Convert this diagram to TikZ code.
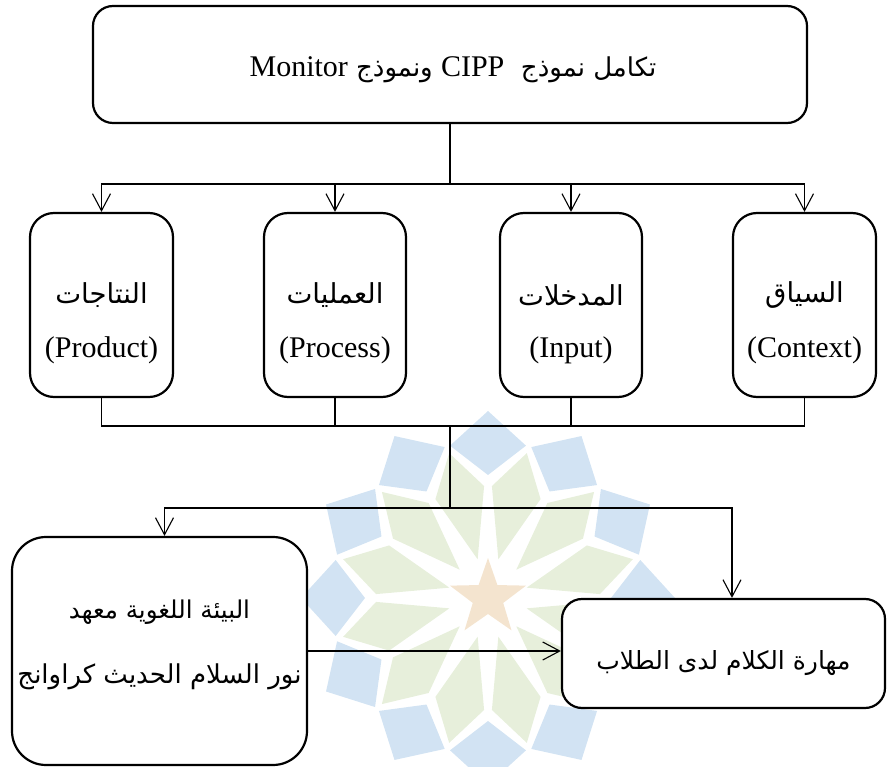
\documentclass[tikz,border=0pt]{standalone}
\usepackage{fontspec}
\setmainfont{Liberation Serif}
\newfontfamily\arabicfont[Script=Arabic]{DejaVu Sans}
\TeXXeTstate=1
\usetikzlibrary{arrows.meta}
\definecolor{wmblue}{HTML}{D2E3F3}
\definecolor{wmgreen}{HTML}{E7EFDB}
\definecolor{wmstar}{HTML}{F4E4CF}
\begin{document}
\begin{tikzpicture}[x=1pt,y=-1pt,
  box/.style={draw=black, fill=white, line width=2.2pt, rounded corners=#1, inner sep=0pt},
  box/.default=22pt,
  conn/.style={line width=1.1pt, draw=black},
  arr/.style={conn, -{Straight Barb[length=17pt,width=18pt,line width=1.1pt]}},
  lat/.style={font=\fontsize{30}{34}\selectfont, inner sep=0pt},
  ara/.style={font=\arabicfont\fontsize{27.5}{32}\selectfont, inner sep=0pt},
]
\useasboundingbox (0,0) rectangle (887,767);

% watermark
\begin{scope}[shift={(488,598)}]
  \foreach \k in {0,...,11}{
    \pgfmathsetmacro\a{30*\k}
    \fill[wmblue] (\a:123) -- ({\a+14}:157) -- (\a:187) -- ({\a-14}:157) -- cycle;
    \pgfmathsetmacro\b{30*\k+15}
    \fill[wmgreen] (\b:40) -- ({\b+13}:112) -- (\b:150) -- ({\b-13}:112) -- cycle;
  }
  \fill[wmstar] (-90:40) -- (-54:16) -- (-18:40) -- (18:16) -- (54:40) -- (90:16) -- (126:40) -- (162:16) -- (198:40) -- (234:16) -- cycle;
\end{scope}

% top box
\node[box=20pt, minimum width=714pt, minimum height=117pt] (top) at (450,64.5) {};
\node[inner sep=0pt] (toptext) at (453,70) {{\arabicfont\fontsize{26}{30}\selectfont\beginR تكامل نموذج\ \ \beginL{\fontsize{30}{34}\rmfamily CIPP}\endL\ ونموذج \beginL{\fontsize{30}{34}\rmfamily Monitor}\endL\endR}};

% CIPP boxes
\node[box=24pt, minimum width=143pt, minimum height=184pt] (prod) at (101.5,305) {};
\node[ara] (prodA) at (101.5,295) {\beginR النتاجات\endR};
\node[lat] (prodE) at (101.5,350) {(Product)};

\node[box=24pt, minimum width=142pt, minimum height=184pt] (proc) at (335,305) {};
\node[ara] (procA) at (335,295) {\beginR العمليات\endR};
\node[lat] (procE) at (335,350) {(Process)};

\node[box=24pt, minimum width=142pt, minimum height=184pt] (inp) at (571,305) {};
\node[ara] (inpA) at (571,295) {\beginR المدخلات\endR};
\node[lat] (inpE) at (571,350) {(Input)};

\node[box=24pt, minimum width=143pt, minimum height=184pt] (ctx) at (804.5,305) {};
\node[ara] (ctxA) at (804.5,295) {\beginR السياق\endR};
\node[lat] (ctxE) at (804.5,350) {(Context)};

% bottom boxes
\node[box=34pt, minimum width=295pt, minimum height=228pt] (env) at (159.5,651) {};
\node[ara, font=\arabicfont\fontsize{24.5}{30}\selectfont] (envA) at (159.5,612) {\beginR البيئة اللغوية معهد\endR};
\node[ara, font=\arabicfont\fontsize{26}{30}\selectfont] (envB) at (159.5,677) {\beginR نور السلام الحديث كراوانج\endR};

\node[box=20pt, minimum width=323pt, minimum height=109pt] (skill) at (723.5,653.5) {};
\node[ara, font=\arabicfont\fontsize{25}{30}\selectfont] (skillA) at (723.5,663) {\beginR مهارة الكلام لدى الطلاب\endR};

% connectors
\coordinate (j1) at (450,184);
\coordinate (j2) at (450,426);
\coordinate (j3) at (450,508);
\draw[conn] (top.south) -- (j1);
\foreach \b in {prod,proc,inp,ctx} \draw[arr] (j1) -| (\b.north);
\foreach \b in {prod,proc,inp,ctx} \draw[conn] (\b.south) |- (j2);
\draw[conn] (j2) -- (j3);
\draw[arr] (j3) -| ([xshift=5pt]env.north);
\draw[arr] (j3) -| ([xshift=8.5pt]skill.north);
\draw[arr] (env.east) -- (env.east -| skill.west);
\end{tikzpicture}
\end{document}
